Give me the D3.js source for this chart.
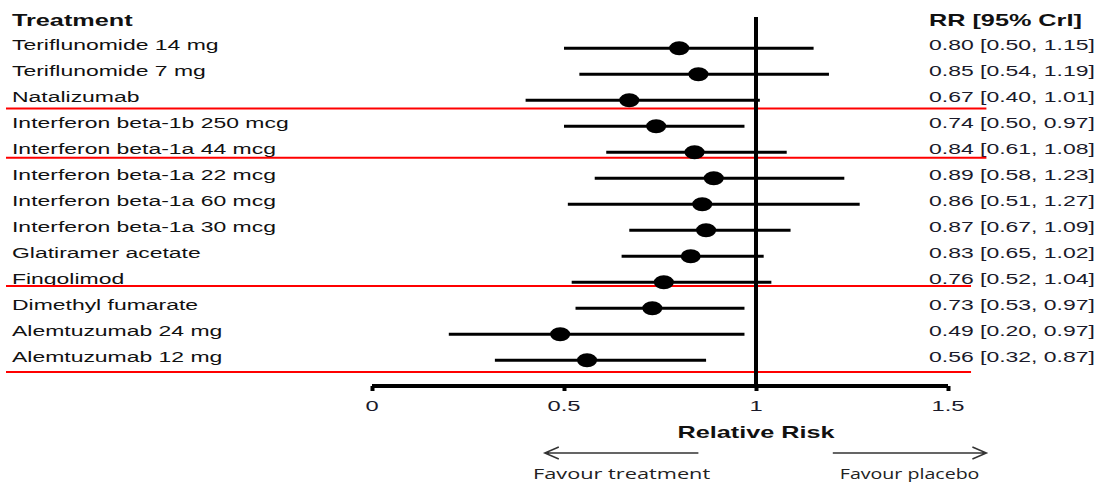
<!DOCTYPE html>
<html>
<head>
<meta charset="utf-8">
<script src="https://cdn.jsdelivr.net/npm/d3@7"></script>
<style>
  html, body { margin: 0; padding: 0; background: #fff; }
  svg { display: block; }
  text { font-family: "Liberation Sans", Arial, sans-serif; }
</style>
</head>
<body>
<svg id="chart" width="1096" height="482"></svg>
<script>
// ---- data ----
const treatments = [
  "Teriflunomide 14 mg", "Teriflunomide 7 mg", "Natalizumab",
  "Interferon beta-1b 250 mcg", "Interferon beta-1a 44 mcg",
  "Interferon beta-1a 22 mcg", "Interferon beta-1a 60 mcg",
  "Interferon beta-1a 30 mcg", "Glatiramer acetate", "Fingolimod",
  "Dimethyl fumarate", "Alemtuzumab 24 mg", "Alemtuzumab 12 mg"
];
const rr    = [0.80, 0.85, 0.67, 0.74, 0.84, 0.89, 0.86, 0.87, 0.83, 0.76, 0.73, 0.49, 0.56];
const lower = [0.50, 0.54, 0.40, 0.50, 0.61, 0.58, 0.51, 0.67, 0.65, 0.52, 0.53, 0.20, 0.32];
const upper = [1.15, 1.19, 1.01, 0.97, 1.08, 1.23, 1.27, 1.09, 1.02, 1.04, 0.97, 0.97, 0.87];
const xTicks = [0, 0.5, 1, 1.5];
const xTickLabels = ["0", "0.5", "1", "1.5"];
// red separator lines (row-index position) and their right end (data units)
const separatorRows = [2.32, 4.21, 9.14, 12.45];
const separatorEnds = [1.60, 1.60, 1.56, 1.56];

const headerLeft = "Treatment";
const headerRight = "RR [95% CrI]";
const xTitle = "Relative Risk";
const favourLeft = "Favour treatment";
const favourRight = "Favour placebo";

// ---- layout ----
const svg = d3.select("#chart");
const SX = 1.53; // horizontal stretch of the original picture

const x = d3.scaleLinear().domain([0, 1.5]).range([372, 948]);
const y = d3.scaleLinear().domain([0, 12]).range([48.3, 360.3]);

function stretchedText(g, tx, ty, str, opts) {
  const t = g.append("text")
    .attr("transform", `translate(${tx},${ty}) scale(${opts.sx || SX},1)`)
    .attr("font-size", opts.size || 15)
    .attr("font-weight", opts.weight || "normal")
    .attr("fill", opts.fill || "#111")
    .attr("text-anchor", opts.anchor || "start")
    .text(str);
  if (opts.family) t.style("font-family", opts.family);
  return t;
}

const idx = d3.range(treatments.length);

// headers
stretchedText(svg, 12, 26, headerLeft, {size: 16.5, weight: "bold"});
stretchedText(svg, 929, 26, headerRight, {size: 16.5, weight: "bold"});

// row labels
idx.forEach(i => {
  stretchedText(svg, 12, y(i) + 1.5, treatments[i], {size: 15});
  stretchedText(svg, 929, y(i) + 1.5,
    `${rr[i].toFixed(2)} [${lower[i].toFixed(2)}, ${upper[i].toFixed(2)}]`,
    {size: 15, fill: "#1a1a2a"});
});

// red separators
separatorRows.forEach((r, k) => {
  svg.append("line")
    .attr("x1", 6).attr("x2", x(separatorEnds[k]))
    .attr("y1", y(r)).attr("y2", y(r))
    .attr("stroke", "#ff0000").attr("stroke-width", 2);
});

// null line
svg.append("line")
  .attr("x1", x(1)).attr("x2", x(1))
  .attr("y1", 17).attr("y2", 388)
  .attr("stroke", "#000").attr("stroke-width", 4);

// CI lines
svg.append("g").selectAll("line").data(idx).join("line")
  .attr("x1", i => x(lower[i])).attr("x2", i => x(upper[i]))
  .attr("y1", i => y(i)).attr("y2", i => y(i))
  .attr("stroke", "#000").attr("stroke-width", 3);

// points
svg.append("g").selectAll("ellipse").data(idx).join("ellipse")
  .attr("cx", i => x(rr[i])).attr("cy", i => y(i))
  .attr("rx", 10).attr("ry", 7)
  .attr("fill", "#000");

// x axis
const axisY = 386;
const axis = d3.axisBottom(x).tickValues(xTicks).tickSize(5).tickFormat("");
const ag = svg.append("g").attr("transform", `translate(0,${axisY})`).call(axis);
ag.select(".domain").attr("d", `M${x(0)},0H${x(1.5)}`).attr("stroke", "#000").attr("stroke-width", 4);
ag.selectAll(".tick line").attr("stroke", "#000").attr("stroke-width", 4);
xTicks.forEach((v, k) => {
  stretchedText(svg, x(v), 411, xTickLabels[k], {size: 15.5, anchor: "middle", fill: "#1a1a2a"});
});

// axis title
stretchedText(svg, x(1), 438, xTitle, {size: 16.5, weight: "bold", anchor: "middle"});

// favour arrows
const arrowY = 453;
function arrow(from, to) {
  const x0 = x(from), x1 = x(to);
  const dir = x1 > x0 ? -1 : 1;
  svg.append("path")
    .attr("d", `M${x0},${arrowY}H${x1}M${x1 + dir * 14},${arrowY - 6}L${x1},${arrowY}L${x1 + dir * 14},${arrowY + 6}`)
    .attr("fill", "none").attr("stroke", "#333").attr("stroke-width", 1.5);
}
arrow(0.85, 0.45);
arrow(1.2, 1.6);
stretchedText(svg, x(0.65), 479, favourLeft, {size: 14.5, anchor: "middle", fill: "#222", family: "'Open Sans', sans-serif", sx: 1.5});
stretchedText(svg, x(1.4), 479, favourRight, {size: 14, anchor: "middle", fill: "#222", family: "'Open Sans', sans-serif", sx: 1.4});
</script>
</body>
</html>
